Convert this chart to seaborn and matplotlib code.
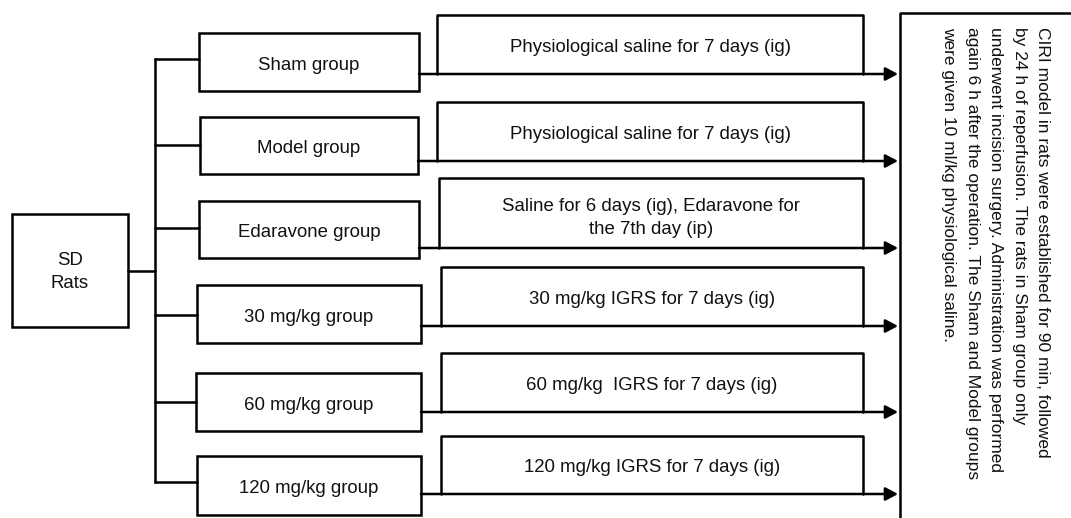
import matplotlib
matplotlib.use('Agg')
import matplotlib.pyplot as plt
import seaborn as sns
from matplotlib.patches import Rectangle

sns.set_style("white")
plt.rcParams['font.family'] = ['Liberation Sans', 'DejaVu Sans']
plt.rcParams['figure.facecolor'] = 'white'

# Content
source_label = "SD\nRats"
groups = ["Sham group", "Model group", "Edaravone group",
          "30 mg/kg group", "60 mg/kg group", "120 mg/kg group"]
treatments = ["Physiological saline for 7 days (ig)",
              "Physiological saline for 7 days (ig)",
              "Saline for 6 days (ig), Edaravone for\nthe 7th day (ip)",
              "30 mg/kg IGRS for 7 days (ig)",
              "60 mg/kg  IGRS for 7 days (ig)",
              "120 mg/kg IGRS for 7 days (ig)"]
note = ("CIRI model in rats were established for 90 min, followed\n"
        "by 24 h of reperfusion. The rats in Sham group only\n"
        "underwent incision surgery. Administration was performed\n"
        "again 6 h after the operation. The Sham and Model groups\n"
        "were given 10 ml/kg physiological saline.")

# Layout (pixel coordinates, y downwards)
group_top = [33, 117, 201, 285, 373, 456]
group_bottom = [91, 174, 258, 343, 431, 515]
group_left = [199, 200, 199, 197, 196, 197]
group_right = [419, 418, 419, 421, 421, 421]
branch_y = [59, 145, 228, 315, 402, 482]
treat_top = [15, 102, 178, 267, 353, 436]
arrow_y = [74, 161, 248, 326, 412, 494]
treat_left = [437, 437, 439, 441, 441, 441]
treat_text_shift = [3, 3, 5, 3, 3, 3]
treat_right = 863
arrow_tip = 898
trunk_x = 155
sd_box = (12, 214, 128, 327)
sd_link_y = 271
note_box_left, note_box_top = 900, 13

lw = 1.8
fs = 13.4
ink = '#111111'

fig = plt.figure(figsize=(10.71, 5.18), dpi=100)
ax = fig.add_axes([0, 0, 1, 1])
ax.set_xlim(0, 1071)
ax.set_ylim(518, 0)
ax.axis('off')

# SD rats box
x0, y0, x1, y1 = sd_box
ax.add_patch(Rectangle((x0, y0), x1 - x0, y1 - y0, fill=False, lw=lw, ec='black'))
ax.text((x0 + x1) / 2, (y0 + y1) / 2 + 1.5, source_label, ha='center', va='center',
        fontsize=fs, linespacing=1.45, color=ink)
ax.plot([x1, trunk_x], [sd_link_y, sd_link_y], color='black', lw=lw)

# Trunk line
ax.plot([trunk_x, trunk_x], [branch_y[0], branch_y[-1]], color='black', lw=lw,
        solid_capstyle='projecting')

for i, (g, t) in enumerate(zip(groups, treatments)):
    # branch to group box
    ax.plot([trunk_x, group_left[i]], [branch_y[i], branch_y[i]], color='black', lw=lw)
    ax.add_patch(Rectangle((group_left[i], group_top[i]),
                           group_right[i] - group_left[i],
                           group_bottom[i] - group_top[i],
                           fill=False, lw=lw, ec='black'))
    ax.text((group_left[i] + group_right[i]) / 2,
            (group_top[i] + group_bottom[i]) / 2 + 3, g,
            ha='center', va='center', fontsize=fs, color=ink)
    # treatment box (open at bottom, closed by the arrow)
    ax.plot([treat_left[i], treat_left[i], treat_right, treat_right],
            [arrow_y[i], treat_top[i], treat_top[i], arrow_y[i]],
            color='black', lw=lw)
    ax.text((treat_left[i] + treat_right) / 2,
            (treat_top[i] + arrow_y[i]) / 2 + treat_text_shift[i], t,
            ha='center', va='center', fontsize=fs, linespacing=1.4, color=ink)
    # arrow
    ax.annotate('', xy=(arrow_tip, arrow_y[i]), xytext=(group_right[i], arrow_y[i]),
                arrowprops=dict(arrowstyle='-|>,head_length=0.75,head_width=0.4',
                                lw=lw, color='black', shrinkA=0, shrinkB=0))

# Note box (cut by the figure edge)
ax.plot([1080, note_box_left, note_box_left], [note_box_top, note_box_top, 530],
        color='black', lw=lw)
ax.text(1050, 27, note, rotation=270, ha='right', va='top',
        multialignment='left', fontsize=12.5, linespacing=1.7, color=ink)

plt.savefig('out.png', dpi=100)
